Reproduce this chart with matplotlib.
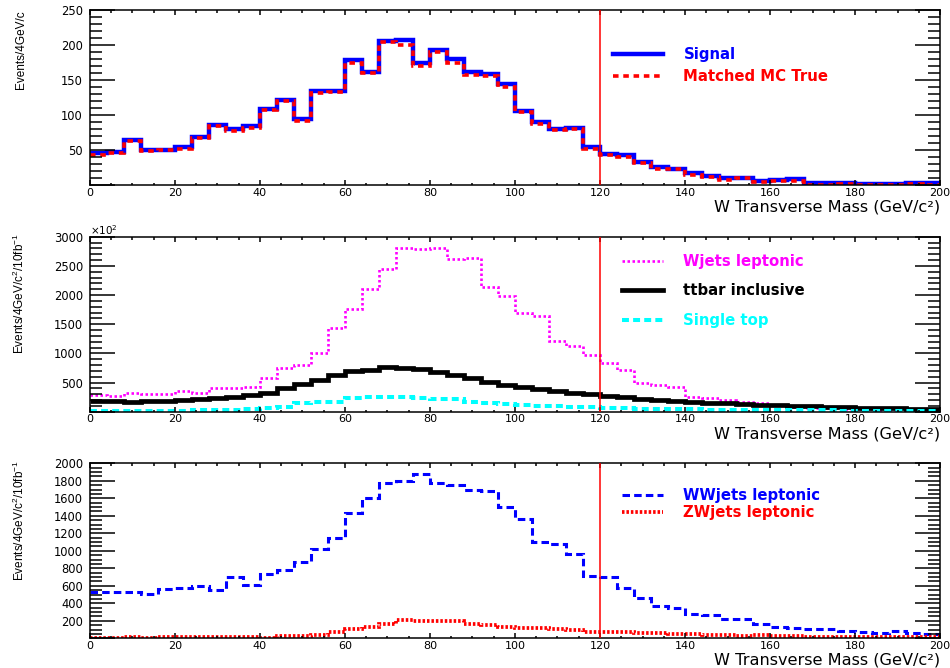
import numpy as np
import matplotlib
matplotlib.use('Agg')
import matplotlib.pyplot as plt
from matplotlib.ticker import MultipleLocator, FuncFormatter

plt.rcParams['font.family'] = ['DejaVu Sans']
plt.rcParams['mathtext.fontset'] = 'custom'
plt.rcParams['mathtext.rm'] = 'Liberation Sans'
plt.rcParams['mathtext.it'] = 'Liberation Sans:italic'
plt.rcParams['mathtext.bf'] = 'Liberation Sans:bold'
plt.rcParams['lines.scale_dashes'] = False

# ---------------- data ----------------
bin_edges = np.linspace(0, 200, 51)
cut_value = 120

signal = [46, 48, 65, 51, 51, 54, 69, 86, 80, 84, 109, 122, 94, 134, 134, 179, 162, 206, 208, 174,
          193, 180, 162, 159, 145, 106, 91, 80, 82, 55, 45, 43, 34, 26, 24, 17, 13, 10, 11, 6,
          8, 9.5, 3, 3, 3, 2, 1.5, 1.5, 3, 3]
matched_mc = [44, 46, 63, 49, 50, 52, 67, 85, 78, 82, 107, 120, 92, 132, 133, 174, 161, 204, 200, 170,
              190, 175, 158, 156, 140, 104, 88, 79, 81, 52, 44, 41, 32, 24, 23, 15, 12, 8, 10, 5,
              6, 6, 1, 1, 2, 0.5, 0.5, 0.5, 2, 1]

wjets = [287, 276, 328, 310, 299, 356, 328, 414, 414, 431, 569, 747, 805, 1006, 1437, 1764, 2098, 2454, 2805, 2787,
         2805, 2615, 2626, 2138, 1983, 1684, 1638, 1218, 1121, 966, 833, 718, 500, 460, 431, 259, 230, 201, 172, 144,
         115, 86, 69, 57, 46, 40, 34, 29, 29, 23]
ttbar = [184, 184, 172, 184, 190, 195, 213, 230, 259, 287, 328, 402, 471, 540, 626, 690, 718, 759, 747, 730,
         672, 632, 575, 506, 460, 420, 385, 356, 328, 299, 276, 247, 224, 201, 184, 172, 155, 144, 132, 121,
         109, 98, 92, 80, 75, 69, 63, 57, 52, 46]
single_top = [14, 14, 14, 17, 17, 20, 23, 26, 29, 40, 57, 86, 144, 172, 172, 230, 259, 259, 247, 241,
              224, 213, 172, 155, 132, 115, 98, 92, 86, 75, 63, 57, 52, 46, 43, 40, 37, 34, 31, 29,
              29, 26, 23, 23, 20, 17, 17, 17, 14, 14]

wwjets = [533, 526, 533, 503, 564, 571, 598, 552, 705, 610, 735, 781, 869, 1017, 1150, 1429, 1600, 1779, 1802, 1878,
          1771, 1752, 1690, 1688, 1505, 1364, 1097, 1078, 968, 716, 705, 579, 457, 370, 343, 274, 263, 221, 221, 160,
          130, 114, 103, 103, 88, 72, 65, 80, 65, 46]
zwjets = [8, 8, 12, 8, 15, 15, 12, 12, 15, 12, 8, 23, 27, 38, 69, 103, 133, 164, 210, 202,
          198, 198, 164, 152, 133, 122, 114, 110, 95, 76, 72, 69, 65, 57, 53, 50, 42, 38, 30, 38,
          23, 23, 20, 20, 20, 20, 17, 17, 15, 15]

xlabel = 'W Transverse Mass (GeV/c\u00b2)'
ylabel_top = 'Events/4GeV/c'
ylabel_norm = 'Events/4GeV/c$^{2}$/10fb$^{-1}$'

# ---------------- figure ----------------
fig = plt.figure(figsize=(9.5, 6.68), dpi=100)
ax1 = fig.add_axes([0.0947, 0.7226, 0.8948, 0.2620])
ax2 = fig.add_axes([0.0947, 0.3837, 0.8948, 0.2620])
ax3 = fig.add_axes([0.0947, 0.0445, 0.8948, 0.2620])

nozero = FuncFormatter(lambda v, p: '' if abs(v) < 1e-9 else f'{v:g}')


def style(ax, ymax, ymajor, yminor, ylab, ylab_y):
    ax.set_xlim(0, 200)
    ax.set_ylim(0, ymax)
    ax.xaxis.set_major_locator(MultipleLocator(20))
    ax.xaxis.set_minor_locator(MultipleLocator(5))
    ax.yaxis.set_major_locator(MultipleLocator(ymajor))
    ax.yaxis.set_minor_locator(MultipleLocator(yminor))
    ax.yaxis.set_major_formatter(nozero)
    ax.tick_params(axis='both', which='both', direction='in', top=True, right=True,
                   width=1.1, color='black', labelcolor='black')
    ax.tick_params(axis='x', which='major', length=3.6, pad=2, labelsize=8)
    ax.tick_params(axis='x', which='minor', length=1.8)
    ax.tick_params(axis='y', which='major', length=18, pad=5, labelsize=8.3)
    ax.tick_params(axis='y', which='minor', length=8.9)
    for s in ax.spines.values():
        s.set_linewidth(1.1)
    ax.axvline(cut_value, color='red', lw=1.1, zorder=5)
    ax.set_xlabel(xlabel, loc='right', fontsize=11.6)
    ax.xaxis.set_label_coords(1.0, -0.083)
    ax.set_ylabel(ylab, loc='top', fontsize=8.5, fontfamily='Liberation Sans',
                  math_fontfamily='custom')
    ax.yaxis.set_label_coords(-0.074, ylab_y)


def legend(ax, anchor, hlen, tpad, lspace, colors):
    leg = ax.legend(loc='upper left', bbox_to_anchor=anchor, frameon=False, borderpad=0,
                    borderaxespad=0, handlelength=hlen, handletextpad=tpad,
                    labelspacing=lspace, prop={'weight': 'bold', 'size': 10.7})
    for t, c in zip(leg.get_texts(), colors):
        t.set_color(c)


# Panel 1
ax1.stairs(signal, bin_edges, baseline=None, color='#0000ff', lw=3.2, label='Signal')
ax1.stairs(matched_mc, bin_edges, baseline=None, color='#ff0000', lw=2.6,
           linestyle=(0, (4.0, 3.4)), label='Matched MC True')
style(ax1, 250, 50, 10, ylabel_top, 1.0)
legend(ax1, (0.615, 0.791), 3.36, 1.4, 0.51, ['#0000ff', '#ff0000'])

# Panel 2
ax2.stairs(wjets, bin_edges, baseline=None, color='#ff00ff', lw=1.9,
           linestyle=(0, (1.8, 1.8)), label='Wjets leptonic')
ax2.stairs(ttbar, bin_edges, baseline=None, color='black', lw=3.4, label='ttbar inclusive')
ax2.stairs(single_top, bin_edges, baseline=None, color='#00ffff', lw=2.9,
           linestyle=(0, (5.0, 3.0)), label='Single top')
style(ax2, 3000, 500, 100, ylabel_norm, 1.02)
ax2.text(0.0, 1.0, r'$\times$10$^{2}$', transform=ax2.transAxes, ha='left', va='bottom',
         fontsize=7.5, math_fontfamily='dejavusans')
legend(ax2, (0.626, 0.902), 2.75, 1.34, 0.98, ['#ff00ff', 'black', '#00ffff'])

# Panel 3
ax3.stairs(wwjets, bin_edges, baseline=None, color='#0000ff', lw=2.2,
           linestyle=(0, (5.4, 3.0)), label='WWjets leptonic')
ax3.stairs(zwjets, bin_edges, baseline=None, color='#ff0000', lw=2.7,
           linestyle=(0, (1.8, 1.4)), label='ZWjets leptonic')
style(ax3, 2000, 200, 50, ylabel_norm, 1.02)
legend(ax3, (0.626, 0.86), 2.75, 1.34, 0.17, ['#0000ff', '#ff0000'])

fig.savefig('out.png', dpi=100, facecolor='white')
